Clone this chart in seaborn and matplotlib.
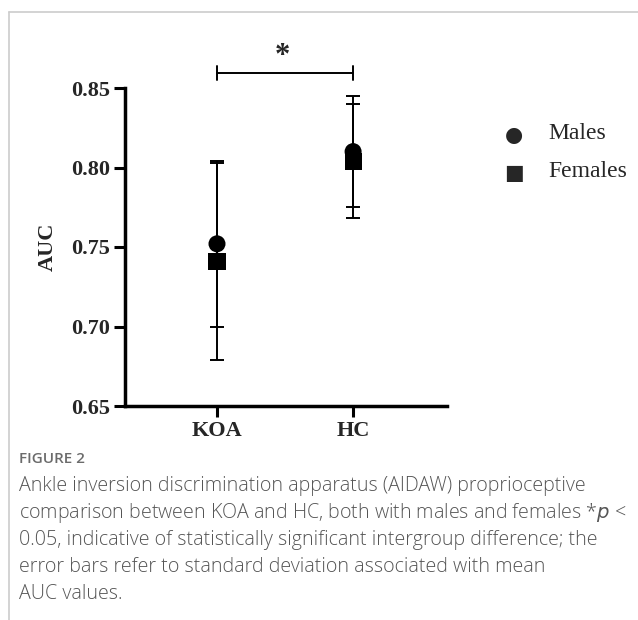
import matplotlib
matplotlib.use("Agg")
import matplotlib.pyplot as plt
import seaborn as sns
import pandas as pd
from matplotlib.lines import Line2D

groups = ["KOA", "KOA", "HC", "HC"]
sexes = ["Males", "Females", "Males", "Females"]
means = [0.752, 0.741, 0.810, 0.804]
sds = [0.052, 0.062, 0.035, 0.036]
y_ticks = [0.65, 0.70, 0.75, 0.80, 0.85]
y_ticklabels = ["0.65", "0.70", "0.75", "0.80", "0.85"]
categories = ["KOA", "HC"]

df = pd.DataFrame({"group": groups, "sex": sexes, "mean": means, "sd": sds})
df["group"] = pd.Categorical(df["group"], categories=categories, ordered=True)

sns.set_theme(style="white")
plt.rcParams["font.family"] = ["Liberation Serif", "DejaVu Serif"]

fig = plt.figure(figsize=(6.38, 6.20), dpi=100)
W, H = 638, 620
ax_left, ax_right, ax_top, ax_bot = 125, 447, 88, 406
ax = fig.add_axes([ax_left / W, 1 - ax_bot / H, (ax_right - ax_left) / W, (ax_bot - ax_top) / H])

xpos = {c: i for i, c in enumerate(categories)}
df["x"] = df["group"].map(xpos).astype(float)

# error bars (SD)
for _, r in df.iterrows():
    ax.errorbar(r["x"], r["mean"], yerr=r["sd"], fmt="none", ecolor="black",
                elinewidth=1.4, capsize=5, capthick=1.4, zorder=2, clip_on=False)

sns.scatterplot(data=df, x="x", y="mean", style="sex",
                markers={"Males": "o", "Females": "s"}, color="black",
                s=150, edgecolor="black", linewidth=0, legend=False, ax=ax, zorder=3,
                clip_on=False)

ax.set_xlim(-0.676, 1.69)
ax.set_ylim(0.65, 0.85)
ax.set_xticks([0, 1])
ax.set_xticklabels(categories, fontsize=16, fontweight="bold")
ax.set_yticks(y_ticks)
ax.set_yticklabels(y_ticklabels, fontsize=16, fontweight="bold")
ax.set_xlabel("")
ax.set_ylabel("AUC", fontsize=16, fontweight="bold", labelpad=9)
for s in ["top", "right"]:
    ax.spines[s].set_visible(False)
for s in ["left", "bottom"]:
    ax.spines[s].set_linewidth(2.5)
    ax.spines[s].set_color("black")
ax.tick_params(axis="both", direction="out", length=8, width=2.2, color="black",
               bottom=True, left=True, pad=3)

# significance bracket
yb = 0.8594
ax.plot([0, 1], [yb, yb], color="black", lw=1.4, clip_on=False)
ax.plot([0, 0], [yb - 0.0045, yb + 0.0045], color="black", lw=1.4, clip_on=False)
ax.plot([1, 1], [yb - 0.0045, yb + 0.0045], color="black", lw=1.4, clip_on=False)
ax.text(0.48, yb + 0.0015, "*", ha="center", va="bottom", fontsize=22, fontweight="bold")

# legend
fig.text(514 / W, 1 - 135 / H, "\u25CF", ha="center", va="center", fontsize=15,
         family=["DejaVu Sans"])
fig.text(514 / W, 1 - 173 / H, "\u25A0", ha="center", va="center", fontsize=15,
         family=["DejaVu Sans"])
fig.text(548 / W, 1 - 134 / H, "Males", ha="left", va="center", fontsize=17)
fig.text(548 / W, 1 - 172 / H, "Females", ha="left", va="center", fontsize=17)

# page border
fig.add_artist(Line2D([9 / W, 1], [1 - 12 / H, 1 - 12 / H], color="#cccccc", lw=1.2))
fig.add_artist(Line2D([9 / W, 9 / W], [0, 1 - 12 / H], color="#cccccc", lw=1.2))

# caption
cap_font = ["Open Sans", "DejaVu Sans"]
fig.text(19 / W, 1 - 459 / H, "FIGURE 2", ha="left", va="center", fontsize=11,
         color="#6b6b6b", family=cap_font, fontweight="semibold")
lines = [
    "Ankle inversion discrimination apparatus (AIDAW) proprioceptive",
    "comparison between KOA and HC, both with males and females *$p$ <",
    "0.05, indicative of statistically significant intergroup difference; the",
    "error bars refer to standard deviation associated with mean",
    "AUC values.",
]
for i, ln in enumerate(lines):
    fig.text(19 / W, 1 - (486 + i * 27) / H, ln, ha="left", va="center", fontsize=14.1,
             color="#555555", family=cap_font, fontweight="light")

fig.savefig("out.png", dpi=100)
